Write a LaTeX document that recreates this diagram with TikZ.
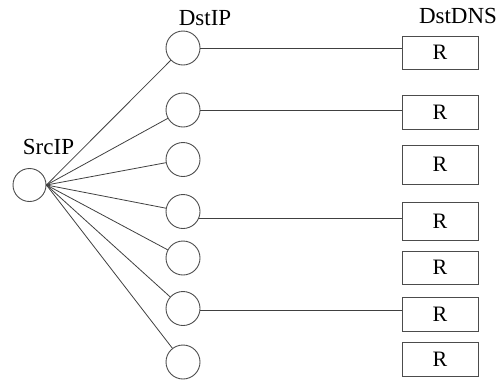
\documentclass[tikz,border=0pt]{standalone}
\usepackage{fontspec}
\setmainfont{Liberation Serif}
\begin{document}
\begin{tikzpicture}[x=1pt,y=-1pt,
  ip/.style={circle, draw=black!70, line width=0.9pt, minimum size=34pt, inner sep=0pt},
  dns/.style={draw=black!70, line width=0.9pt, minimum width=76pt, inner sep=0pt,
    font=\fontsize{22}{24}\selectfont},
  lbl/.style={font=\fontsize{23}{26}\selectfont, anchor=base, inner sep=0pt},
  link/.style={draw=black!75, line width=0.8pt}]
\useasboundingbox (0,0) rectangle (502,384);

% column headings
\node[lbl] (srcl) at (48.5,154) {SrcIP};
\node[lbl] (dstl) at (205,25) {DstIP};
\node[lbl] (dnsl) at (458,23) {DstDNS};

% source host
\node[ip, minimum size=33pt] (s) at (29.5,185) {};

% destination hosts
\node[ip] (d1) at (183,48) {};
\node[ip] (d2) at (183,110) {};
\node[ip] (d3) at (183,159.5) {};
\node[ip] (d4) at (183,211.5) {};
\node[ip] (d5) at (183,258) {};
\node[ip] (d6) at (183,308.5) {};
\node[ip] (d7) at (183,362) {};

% resolver boxes
\node[dns, minimum height=33pt] (r1) at (440,52.5) {R};
\node[dns, minimum height=34pt] (r2) at (440,112) {R};
\node[dns, minimum height=39pt] (r3) at (440,164.5) {R};
\node[dns, minimum height=38pt] (r4) at (440,221) {R};
\node[dns, minimum height=33pt] (r5) at (440,267.5) {R};
\node[dns, minimum height=34pt] (r6) at (440,314) {R};
\node[dns, minimum height=34pt] (r7) at (440,359) {R};

% fan-out from the source
\foreach \i in {1,...,7}
  \draw[link] (s.east) -- (d\i);

% destination to resolver links
\draw[link] (d1.east) -- (d1.east -| r1.west);
\draw[link] (d2.east) -- (d2.east -| r2.west);
\draw[link] (d4.-24) -- (d4.-24 -| r4.west);
\draw[link] (d6.-6) -- (d6.-6 -| r6.west);
\end{tikzpicture}
\end{document}
